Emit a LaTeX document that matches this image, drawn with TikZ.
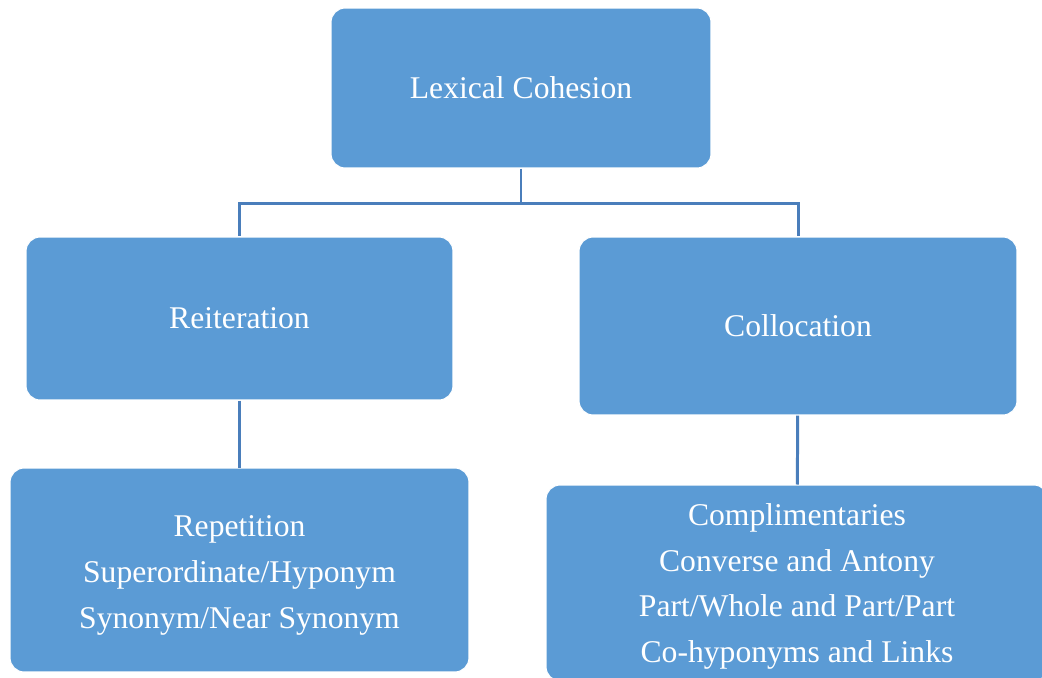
\documentclass[tikz,border=0pt]{standalone}
\usepackage{fontspec}
\setmainfont{Liberation Serif}
\usepackage{tikz}
\usetikzlibrary{positioning}
\definecolor{lexfill}{HTML}{5B9BD5}
\definecolor{lexline}{HTML}{4A7EBB}

\begin{document}
\begin{tikzpicture}[x=0.02cm, y=-0.02cm, font=\fontsize{18}{26}\selectfont,
  box/.style={fill=lexfill, draw=white, line width=0.6pt, rounded corners=8pt, text=white, align=center, inner sep=0pt},
  conn/.style={draw=lexline, line width=1.7pt}]
\useasboundingbox (0,0) rectangle (1042,677);
\clip (0,0) rectangle (1042,677);
\node[box, minimum width=7.6cm, minimum height=3.2cm] (lex) at (521,88) {Lexical Cohesion};
\node[box, minimum width=8.54cm, minimum height=3.26cm] (reit) at (239.5,318.5) {Reiteration};
\node[box, minimum width=8.76cm, minimum height=3.56cm] (coll) at (798,326) {Collocation};
\node[box, minimum width=9.18cm, minimum height=4.08cm] (rep) at (239.5,570) {\rule{0pt}{18pt}Repetition\\Superordinate/Hyponym\\Synonym/Near Synonym};
\node[box, minimum width=10.04cm, minimum height=3.92cm] (comp) at (797,583) {\rule{0pt}{16.5pt}Complimentaries\\Converse and Antony\\Part/Whole and Part/Part\\Co-hyponyms and Links};
\coordinate (split) at (521,203);
\draw[conn] (lex) -- (split);
\draw[conn] (split) -| (reit.north);
\draw[conn] (split) -| (coll.north);
\draw[conn] (reit) -- (rep);
\draw[conn] (coll) -- (comp);
\end{tikzpicture}
\end{document}
